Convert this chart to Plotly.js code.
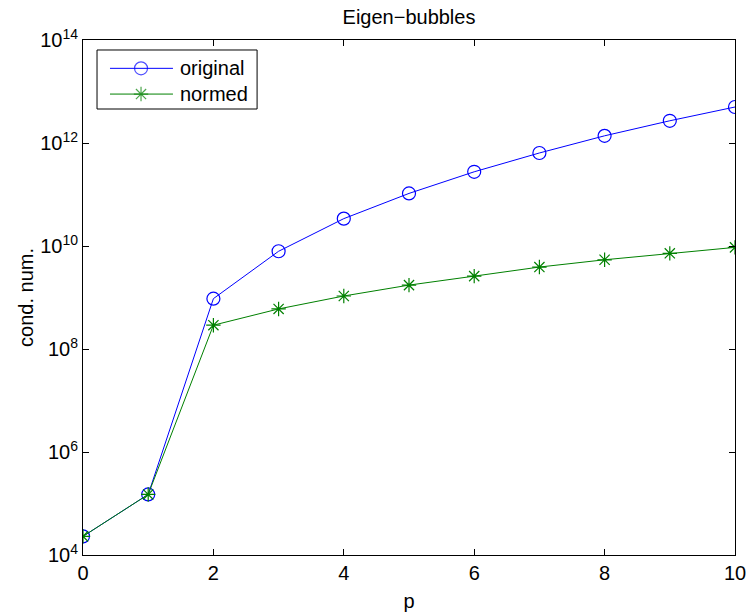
<!DOCTYPE html>
<html><head><meta charset="utf-8">
<script src="https://cdn.plot.ly/plotly-3.0.1.min.js"></script>
<style>body{margin:0;background:#fff}#c{width:750px;height:612px}</style>
</head><body><div id="c"></div>
<script>
const pValues = [0,1,2,3,4,5,6,7,8,9,10];
const original = [2.3e4,1.5e5,9.5e8,7.9e9,3.4e10,1.05e11,2.76e11,6.4e11,1.38e12,2.7e12,5.0e12];
const normed   = [2.3e4,1.5e5,2.9e8,6.0e8,1.07e9,1.74e9,2.6e9,3.9e9,5.4e9,7.2e9,9.4e9];
const seriesNames = ['original','normed'];
const yTickVals = [1e4,1e6,1e8,1e10,1e12,1e14];
const yTickText = ['10<sup>4</sup>','10<sup>6</sup>','10<sup>8</sup>','10<sup>10</sup>','10<sup>12</sup>','10<sup>14</sup>'];
const xTickVals = [0,2,4,6,8,10];

const FAM = 'Liberation Sans, Arial, sans-serif';
const f = (s)=>({family:FAM, size:s, color:'#000'});
const blue = '#0000ff', green = '#008000';
const circ = {symbol:'circle-open', size:13, color:blue, line:{width:1.2, color:blue}};
const star = {symbol:'asterisk-open', size:12, color:green, line:{width:1.2, color:green}};

// legend geometry in paper units of the plot area
const legX0 = 0.0215, legX1 = 0.267, legY0 = 0.866, legY1 = 0.9806;
const rowY = [0.945, 0.895];
const sampleX = [0.0414, 0.089, 0.138];
const textX = 0.145;

const traces = [
 {x:pValues, y:original, name:seriesNames[0], mode:'lines+markers', showlegend:false,
  line:{color:blue, width:1}, marker:circ},
 {x:pValues, y:normed, name:seriesNames[1], mode:'lines+markers', showlegend:false,
  line:{color:green, width:1}, marker:star},
 // legend samples (on a hidden overlay axis in plot-area units)
 {x:sampleX, y:[rowY[0],rowY[0],rowY[0]], xaxis:'x2', yaxis:'y2', mode:'lines+markers', showlegend:false, hoverinfo:'skip',
  line:{color:blue, width:1}, marker:Object.assign({}, circ, {size:[0,13,0]})},
 {x:sampleX, y:[rowY[1],rowY[1],rowY[1]], xaxis:'x2', yaxis:'y2', mode:'lines+markers', showlegend:false, hoverinfo:'skip',
  line:{color:green, width:1}, marker:Object.assign({}, star, {size:[0,12,0]})}
];
const layout = {
 width:750, height:612,
 margin:{l:83, r:15, t:40, b:57},
 paper_bgcolor:'#fff', plot_bgcolor:'#fff',
 font:f(20),
 title:{text:'Eigen\u2212bubbles', font:f(20), x:0.5, xref:'paper', xanchor:'center', y:0.972, yref:'container', yanchor:'middle'},
 showlegend:false,
 xaxis:{range:[0,10], tickvals:xTickVals, ticktext:xTickVals.map(String), ticks:'inside', ticklen:6,
   tickcolor:'#000', showline:true, linecolor:'#000', linewidth:1, mirror:'ticks', showgrid:false, zeroline:false,
   tickfont:f(20), title:{text:'p', font:f(20)}},
 yaxis:{type:'log', range:[4,14], tickvals:yTickVals, ticktext:yTickText, ticks:'inside', ticklen:6,
   tickcolor:'#000', showline:true, linecolor:'#000', linewidth:1, mirror:'ticks', showgrid:false, zeroline:false,
   tickfont:f(20), title:{text:'cond. num.', font:f(20)}},
 xaxis2:{overlaying:'x', range:[0,1], visible:false, fixedrange:true},
 yaxis2:{overlaying:'y', range:[0,1], visible:false, fixedrange:true},
 shapes:[{type:'rect', xref:'paper', yref:'paper', x0:legX0, x1:legX1, y0:legY0, y1:legY1,
   line:{color:'#000', width:1}, fillcolor:'#fff', layer:'below'}],
 annotations: seriesNames.map((n,i)=>({text:n, xref:'paper', yref:'paper', x:textX, y:rowY[i],
   xanchor:'left', yanchor:'middle', showarrow:false, font:f(20)}))
};
Plotly.newPlot('c', traces, layout, {displayModeBar:false});
</script></body></html>
